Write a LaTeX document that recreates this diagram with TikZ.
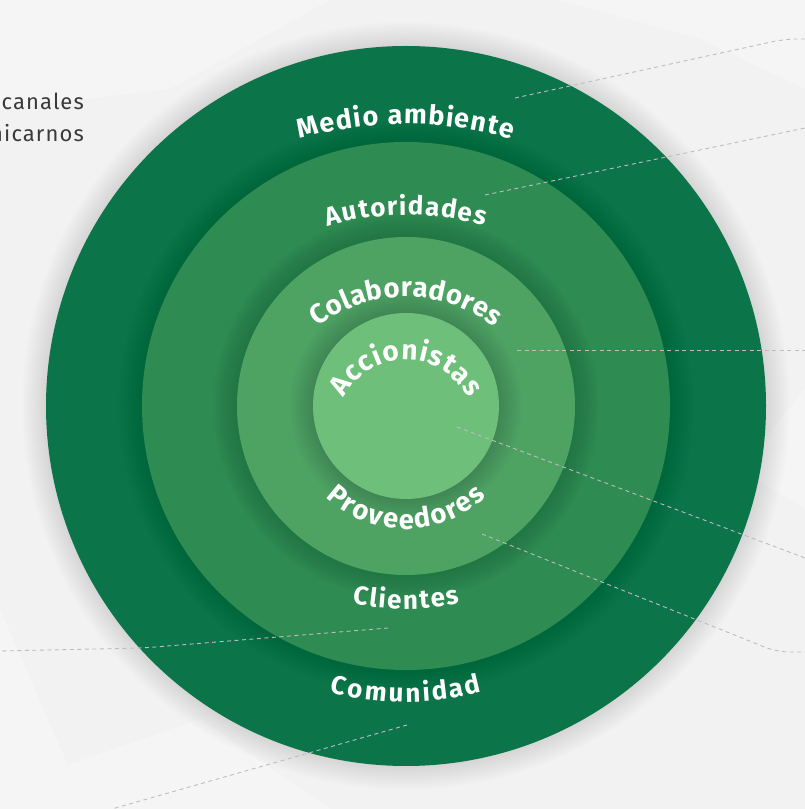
\documentclass[tikz,border=0pt]{standalone}
\usepackage{fontspec}
\usetikzlibrary{decorations.text}
\newfontfamily\labfont{Fira Sans}
\newfontfamily\bodyfont{Fira Sans}[LetterSpace=5]
\definecolor{bgc}{HTML}{F2F2F2}
\definecolor{ringA}{HTML}{0C7449}
\definecolor{ringB}{HTML}{2E8B51}
\definecolor{ringC}{HTML}{4EA363}
\definecolor{ringD}{HTML}{6DBF79}
\definecolor{dashc}{HTML}{BDBDBD}
\definecolor{bodyc}{HTML}{3A3A3A}
\newcommand\softshadow[1]{\foreach \i in {1,...,14}{\fill[black,opacity=0.0065] (cen) circle ({#1+\i*1.7});}}
\newcommand\toplabel[5]{% text, centre Y, radius, half angle, size
  \path[shift={(406,#2)},decorate,decoration={text along path,text color=white,
    text align=fit to path,text={|\labfont\bfseries\fontsize{#5}{#5}\selectfont|#1}}]
    ({90+#4}:#3) arc[start angle={90+#4},end angle={90-#4},radius=#3];}
\newcommand\botlabel[5]{%
  \path[shift={(406,#2)},decorate,decoration={text along path,text color=white,
    text align=fit to path,text={|\labfont\bfseries\fontsize{#5}{#5}\selectfont|#1}}]
    ({270-#4}:#3) arc[start angle={270-#4},end angle={270+#4},radius=#3];}
\tikzset{
  leader/.style={draw=dashc,line width=0.9pt,dash pattern=on 4pt off 3.5pt,rounded corners=12pt},
  bodytext/.style={font=\bodyfont\fontsize{22}{26}\selectfont,text=bodyc,anchor=base east,inner sep=0pt},
  facet/.style={fill=white,opacity=0.25},
}
\begin{document}
\begin{tikzpicture}[x=1pt,y=1pt]
\useasboundingbox (0,0) rectangle (805,809);
\clip (0,0) rectangle (805,809);
% background
\fill[bgc] (0,0) rectangle (805,809);
\fill[facet] (0,809) -- (330,809) -- (170,720) -- (0,700) -- cycle;
\fill[facet] (560,809) -- (805,809) -- (805,720) -- (700,770) -- cycle;
\fill[facet] (0,200) -- (68,44) -- (115,0) -- (0,0) -- cycle;
\fill[facet] (68,44) -- (200,90) -- (330,0) -- (115,0) -- cycle;
\fill[facet] (805,300) -- (740,340) -- (805,420) -- cycle;
\coordinate (cen) at (406,403);
% rings
\softshadow{360}
\fill[ringA] (cen) circle (360);
\softshadow{264}
\fill[ringB] (cen) circle (264);
\softshadow{169}
\fill[ringC] (cen) circle (169);
\softshadow{93}
\fill[ringD] (cen) circle (93);
% curved labels
\toplabel{Medio ambiente}{305}{380}{16.2}{27}
\toplabel{Autoridades}{314}{280}{16.2}{26}
\toplabel{Colaboradores}{367}{145}{37.6}{27.5}
\toplabel{Accionistas}{379}{70}{63}{28}
\botlabel{Proveedores}{396}{116}{43.6}{27.5}
\botlabel{Clientes}{480}{280}{11.1}{26}
\botlabel{Comunidad}{403}{296}{14.9}{26}
% side text
\node[bodytext] (t1) at (84,699) {canales};
\node[bodytext] (t2) at (84,667) {nicarnos};
% leader lines
\coordinate (a1) at (515,711); \coordinate (a1k) at (785,770); \coordinate (a1e) at (805,770);
\coordinate (a2) at (485,614); \coordinate (a2e) at (805,681);
\coordinate (a3) at (517,459); \coordinate (a3e) at (805,459);
\coordinate (a4) at (457,382); \coordinate (a4e) at (805,251);
\coordinate (a5) at (482,275); \coordinate (a5k) at (777,157); \coordinate (a5e) at (805,157);
\coordinate (a6) at (388,181); \coordinate (a6k) at (143,161); \coordinate (a6e) at (0,158);
\coordinate (a7) at (407,84); \coordinate (a7e) at (112,0);
\draw[leader] (a1) -- (a1k) -- (a1e);
\draw[leader] (a2) -- (a2e);
\draw[leader] (a3) -- (a3e);
\draw[leader] (a4) -- (a4e);
\draw[leader] (a5) -- (a5k) -- (a5e);
\draw[leader] (a6) -- (a6k) -- (a6e);
\draw[leader] (a7) -- (a7e);
\end{tikzpicture}
\end{document}
